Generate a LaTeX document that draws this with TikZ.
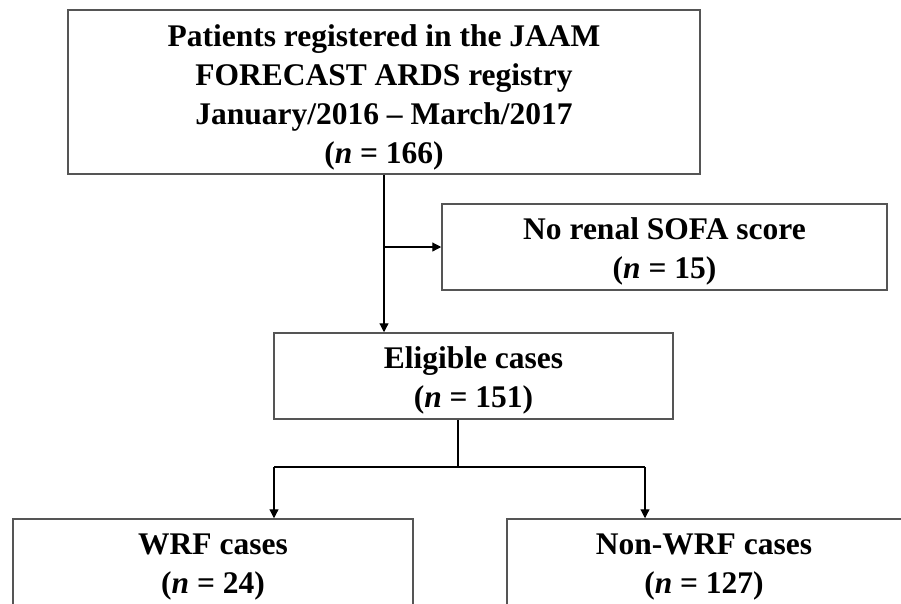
\documentclass[tikz,border=0pt]{standalone}
\usepackage{fontspec}
\setmainfont{Liberation Serif}
\usetikzlibrary{arrows.meta}
\definecolor{boxgray}{RGB}{85,85,85}
\begin{document}
\begin{tikzpicture}[x=1pt,y=-1pt,
  box/.style={draw=boxgray, line width=1.5pt, inner sep=0pt},
  txt/.style={align=center, inner sep=0pt,
    font=\fontsize{31.5}{39}\selectfont\bfseries},
  conn/.style={line width=1.2pt, draw=black},
  arr/.style={conn, -{Triangle[length=9pt,width=9pt]}}]
\useasboundingbox (0,0) rectangle (901,603);
\clip (0,0) rectangle (901,603);
\fill[white] (0,0) rectangle (901,603);
% boxes
\node[box, minimum width=632pt, minimum height=164pt] (top) at (384,92) {};
\node[box, minimum width=445pt, minimum height=86pt] (norenal) at (664.5,247) {};
\node[box, minimum width=399pt, minimum height=86pt] (elig) at (473.5,376) {};
\node[box, minimum width=400pt, minimum height=92pt] (wrf) at (213,565) {};
\node[box, minimum width=398pt, minimum height=92pt] (nonwrf) at (706,565) {};
% texts
\node[txt] (topt) at ([yshift=-5pt]top.center)
  {Patients registered in the JAAM\\FORECAST ARDS registry\\January/2016 – March/2017\\(\textit{n} = 166)};
\node[txt] (norenalt) at ([yshift=-4pt]norenal.center) {No renal SOFA score\\(\textit{n} = 15)};
\node[txt] (eligt) at ([yshift=-4pt]elig.center) {Eligible cases\\(\textit{n} = 151)};
\node[txt] (wrft) at ([yshift=-2pt]wrf.center) {WRF cases\\(\textit{n} = 24)};
\node[txt] (nonwrft) at ([yshift=-2pt,xshift=-2pt]nonwrf.center) {Non-WRF cases\\(\textit{n} = 127)};
% connectors
\coordinate (split) at (458,467);
\coordinate (lsplit) at (274,467);
\coordinate (rsplit) at (645,467);
\draw[arr] (top.south) -- (top.south |- elig.north);
\draw[arr] (top.south |- norenal.west) -- (norenal.west);
\draw[conn] (split |- elig.south) -- (split);
\draw[conn] (lsplit) -- (rsplit);
\draw[arr] (lsplit) -- (lsplit |- wrf.north);
\draw[arr] (rsplit) -- (rsplit |- nonwrf.north);
\end{tikzpicture}
\end{document}
